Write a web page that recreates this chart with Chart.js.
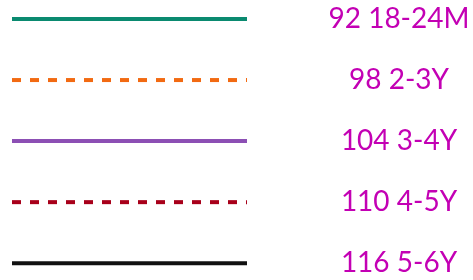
<!DOCTYPE html>
<html>
<head>
<meta charset="utf-8">
<script src="https://cdn.jsdelivr.net/npm/chart.js@4"></script>
<style>
  html, body { margin:0; padding:0; background:#fff; }
  #wrap { width:473px; height:280px; position:relative; }
</style>
</head>
<body>
<div id="wrap"><canvas id="legendChart"></canvas></div>
<script>
// legend entries: height (cm) + age group
const heights = [92, 98, 104, 110, 116];
const ages = ['18-24M', '2-3Y', '3-4Y', '4-5Y', '5-6Y'];
const colors = ['#0a8a70', '#f26a12', '#8c4fb4', '#a8001a', '#111111'];
const dashed = [false, true, false, true, false];

const tickLabels = heights.map((h, i) => h + ' ' + ages[i]);

const datasets = heights.map((h, i) => ({
  label: tickLabels[i],
  data: [{x:0, y:i}, {x:1, y:i}],
  borderColor: colors[i],
  borderWidth: 4,
  borderDash: dashed[i] ? [9, 9] : [],
  pointRadius: 0,
  fill: false,
  clip: false
}));

const labelFont = { family: 'Lato', size: 28 };
const labelCenter = 399; // x where the labels are centred

new Chart(document.getElementById('legendChart').getContext('2d'), {
  type: 'line',
  data: { datasets },
  options: {
    responsive: true,
    maintainAspectRatio: false,
    animation: false,
    layout: { padding: { left: 12, right: 0, top: 19, bottom: 12 } },
    plugins: { legend: { display: false }, tooltip: { enabled: false } },
    scales: {
      x: { type: 'linear', min: 0, max: 1, display: false },
      y: {
        type: 'linear', position: 'right', reverse: true, min: 0, max: 4,
        grid: { display: false, drawTicks: false },
        border: { display: false },
        afterFit: s => {
          s.width = 226;
          // shift centred labels so they sit around labelCenter
          const widest = Math.max(...s._getLabelSizes().widths);
          s.options.ticks.padding = labelCenter - 247 - widest / 2;
        },
        ticks: {
          stepSize: 1,
          crossAlign: 'center',
          padding: 0,
          color: '#c300b4',
          font: labelFont,
          callback: v => tickLabels[v]
        }
      }
    }
  }
});
</script>
</body>
</html>
